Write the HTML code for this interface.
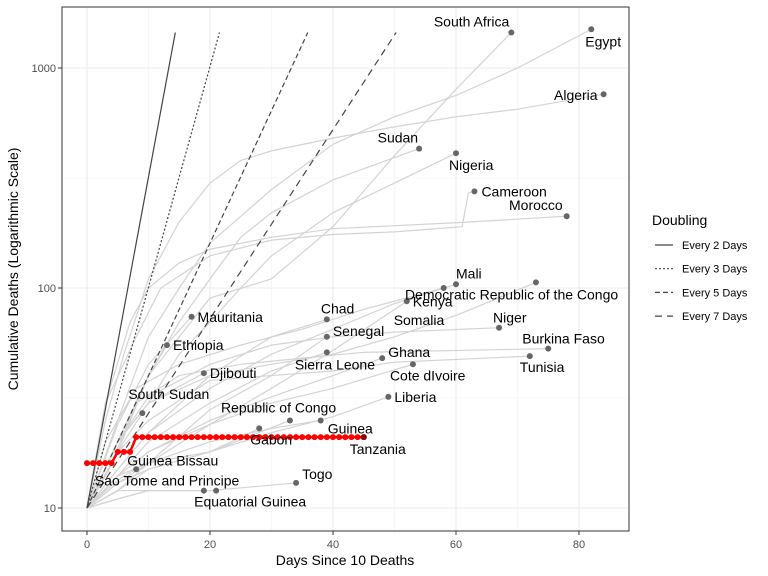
<!DOCTYPE html>
<html><head><meta charset="utf-8"><style>
html,body{margin:0;padding:0;background:#fff;overflow:hidden;width:768px;height:576px;}
svg{display:block;font-family:"Liberation Sans",sans-serif;}
</style></head><body>
<svg id="chart" width="768" height="576" xmlns="http://www.w3.org/2000/svg">
<rect x="0" y="0" width="768" height="576" fill="#fff"/>
<g id="grid"></g>
<g id="lines"></g>
<g id="doubling"></g>
<g id="red"></g>
<g id="dots"></g>
<g id="labels"></g>
<rect x="62" y="7" width="567" height="524" fill="none" stroke="#333" stroke-width="1"/>
<g id="axes"></g>
<text x="345" y="565" font-size="14" text-anchor="middle" fill="#000">Days Since 10 Deaths</text>
<text x="0" y="0" font-size="14" text-anchor="middle" fill="#000" transform="translate(18,269) rotate(-90)">Cumulative Deaths (Logarithmic Scale)</text>
<g id="legend">
<text x="652" y="225" font-size="14" fill="#000">Doubling</text>
</g>
</svg>
<script>
const xTicks=[0,20,40,60,80];
const yTicks=[10,100,1000];
const yTickLabels=["10","100","1000"];
const doublingDays=[2,3,5,7];
const doublingLabels=["Every 2 Days","Every 3 Days","Every 5 Days","Every 7 Days"];
const doublingDash=["","2,2","5,3","7,5"];
const doublingMax=1450;
const tanzaniaDays=[0,1,2,3,4,5,6,7,8,9,10,11,12,13,14,15,16,17,18,19,20,21,22,23,24,25,26,27,28,29,30,31,32,33,34,35,36,37,38,39,40,41,42,43,44,45];
const tanzaniaDeaths=[16,16,16,16,16,18,18,18,21,21,21,21,21,21,21,21,21,21,21,21,21,21,21,21,21,21,21,21,21,21,21,21,21,21,21,21,21,21,21,21,21,21,21,21,21,21];
const countryNames=["South Africa","Egypt","Algeria","Sudan","Nigeria","Cameroon","Morocco","Mali","Democratic Republic of the Congo","Kenya","Somalia","Niger","Burkina Faso","Tunisia","Chad","Senegal","Sierra Leone","Ghana","Cote dIvoire","Liberia","Mauritania","Ethiopia","Djibouti","South Sudan","Republic of Congo","Guinea","Gabon","Guinea Bissau","Togo","Equatorial Guinea","Sao Tome and Principe"];
const countryPaths=[
[[0,10],[5,18],[10,40],[15,60],[20,90],[30,110],[40,190],[50,400],[60,800],[69,1450]],
[[0,10],[5,25],[10,60],[15,100],[20,160],[30,280],[40,450],[50,600],[60,750],[70,1000],[82,1500]],
[[0,10],[3,25],[6,50],[10,110],[15,200],[20,300],[25,380],[30,420],[40,480],[50,540],[60,600],[70,650],[84,760]],
[[0,10],[5,20],[10,40],[15,70],[20,110],[25,170],[30,220],[40,310],[54,430]],
[[0,10],[5,20],[10,30],[15,50],[20,70],[25,100],[30,140],[40,220],[50,300],[60,410]],
[[0,10],[3,30],[8,60],[12,100],[20,140],[30,165],[40,175],[50,180],[61,190],[62,270],[63,275]],
[[0,10],[3,30],[7,70],[10,100],[15,130],[20,150],[30,170],[40,186],[50,192],[60,198],[78,212]],
[[0,10],[5,15],[10,22],[20,35],[30,50],[40,65],[50,85],[60,104]],
[[0,10],[5,20],[10,30],[20,40],[30,45],[40,50],[50,60],[60,75],[73,106]],
[[0,10],[5,14],[10,16],[20,24],[30,35],[40,52],[52,87]],
[[0,10],[3,20],[8,35],[15,45],[25,55],[35,65],[45,80],[58,100]],
[[0,10],[5,20],[10,32],[20,45],[30,55],[40,60],[50,63],[67,66]],
[[0,10],[4,16],[8,30],[15,40],[25,45],[35,48],[45,51],[75,53]],
[[0,10],[5,18],[10,25],[20,38],[30,40],[40,42],[50,46],[72,49]],
[[0,10],[5,15],[10,22],[20,40],[30,60],[39,72]],
[[0,10],[5,12],[10,16],[20,28],[30,40],[39,60]],
[[0,10],[5,14],[10,20],[20,30],[30,42],[39,51]],
[[0,10],[5,14],[10,18],[20,25],[30,32],[40,40],[48,48]],
[[0,10],[5,14],[10,18],[20,24],[30,30],[40,35],[53,45]],
[[0,10],[5,14],[10,16],[20,18],[30,22],[40,26],[49,32]],
[[0,10],[5,24],[10,45],[17,74]],
[[0,10],[5,20],[10,40],[13,55]],
[[0,10],[5,20],[10,30],[19,41]],
[[0,10],[3,14],[6,20],[9,27]],
[[0,10],[5,13],[10,15],[20,18],[33,25]],
[[0,10],[5,13],[10,16],[20,20],[30,23],[38,25]],
[[0,10],[5,12],[10,15],[20,18],[28,23]],
[[0,10],[3,12],[6,14],[8,15]],
[[0,10],[5,11],[10,12],[20,12],[34,13]],
[[0,10],[5,11],[10,12],[21,12]],
[[0,10],[5,12],[19,12]]
];
const labelPos=[[-2,-6,"end"],[-6,17,"start"],[-6,6,"end"],[-1,-6,"end"],[-7,17,"start"],[7,5,"start"],[-4,-6,"end"],[0,-6,"start"],[-131,17,"start"],[6,5,"start"],[-50,37,"start"],[-6,-5,"start"],[-26,-5,"start"],[-10,16,"start"],[-6,-6,"start"],[6,-1,"start"],[-32,17,"start"],[6,-1,"start"],[-23,16,"start"],[6,5,"start"],[6,5,"start"],[6,5,"start"],[6,5,"start"],[-14,-14,"start"],[-69,-8,"start"],[7,13,"start"],[-9,16,"start"],[-9,-4,"start"],[6,-4,"start"],[-22,16,"start"],[-109,-5,"start"]];
const SVGNS="http://www.w3.org/2000/svg";
const X=d=>87+d*6.15;
const Y=v=>508-220*Math.log10(v/10);
function mk(tag,attrs,parent){const e=document.createElementNS(SVGNS,tag);for(const k in attrs)e.setAttribute(k,attrs[k]);document.getElementById(parent).appendChild(e);return e;}
[-10,10,30,50,70,90].forEach(d=>{const x=X(d);if(x>62&&x<629){const g=mk("line",{x1:x,x2:x,y1:7,y2:531,stroke:"#f2f2f2","stroke-width":0.6},"grid");

}});
[Math.sqrt(10)*1,Math.sqrt(10)*10,Math.sqrt(10)*100].forEach(v=>{const g=mk("line",{x1:62,x2:629,y1:Y(v),y2:Y(v),stroke:"#f2f2f2","stroke-width":0.6},"grid");

});
xTicks.forEach(d=>{const g=mk("line",{x1:X(d),x2:X(d),y1:7,y2:531,stroke:"#ebebeb","stroke-width":1.1},"grid");


const t=mk("line",{x1:X(d),x2:X(d),y1:531,y2:535,stroke:"#333"},"axes");


const l=mk("text",{x:X(d),y:548,"font-size":11,"text-anchor":"middle",fill:"#4d4d4d"},"axes");l.textContent=d;

});
yTicks.forEach((v,i)=>{const g=mk("line",{x1:62,x2:629,y1:Y(v),y2:Y(v),stroke:"#ebebeb","stroke-width":1.1},"grid");


const t=mk("line",{x1:58,x2:62,y1:Y(v),y2:Y(v),stroke:"#333"},"axes");


const l=mk("text",{x:56,y:Y(v)+4,"font-size":11,"text-anchor":"end",fill:"#4d4d4d"},"axes");l.textContent=yTickLabels[i];

});
countryPaths.forEach((p,i)=>{const pl=mk("polyline",{points:p.map(q=>X(q[0])+","+Y(q[1])).join(" "),fill:"none",stroke:"#d3d3d3","stroke-width":1.2},"lines");


const e=p[p.length-1];
const c=mk("circle",{cx:X(e[0]),cy:Y(e[1]),r:3,fill:"#666"},"dots");


const lp=labelPos[i];
const t=mk("text",{x:X(e[0])+lp[0],y:Y(e[1])+lp[1],"font-size":14,"text-anchor":lp[2],fill:"#000"},"labels");t.textContent=countryNames[i];

});
doublingDays.forEach((k,i)=>{const dEnd=k*Math.log2(doublingMax/10);
const l=mk("line",{x1:X(0),y1:Y(10),x2:X(dEnd),y2:Y(doublingMax),stroke:"#444","stroke-width":1.2,"stroke-dasharray":doublingDash[i]},"doubling");


const ly=245+i*23.7;
const s=mk("line",{x1:655,x2:673,y1:ly,y2:ly,stroke:"#444","stroke-width":1.2,"stroke-dasharray":doublingDash[i]},"legend");


const t=mk("text",{x:682,y:ly+4,"font-size":11,fill:"#000"},"legend");t.textContent=doublingLabels[i];

});
let pts=[];tanzaniaDays.forEach((d,i)=>{pts.push(X(d)+","+Y(tanzaniaDeaths[i]));});
const rl=mk("polyline",{points:pts.join(" "),fill:"none",stroke:"#ff0000","stroke-width":2.5},"red");


tanzaniaDays.forEach((d,i)=>{const c=mk("circle",{cx:X(d),cy:Y(tanzaniaDeaths[i]),r:3,fill:"#ff0000"},"red");

});
const tl=mk("circle",{cx:X(45),cy:Y(21),r:3,fill:"#8b0000"},"red");


const tt=mk("text",{x:X(45)-14,y:Y(21)+17,"font-size":14,fill:"#000"},"labels");tt.textContent="Tanzania";


</script>
</body></html>
